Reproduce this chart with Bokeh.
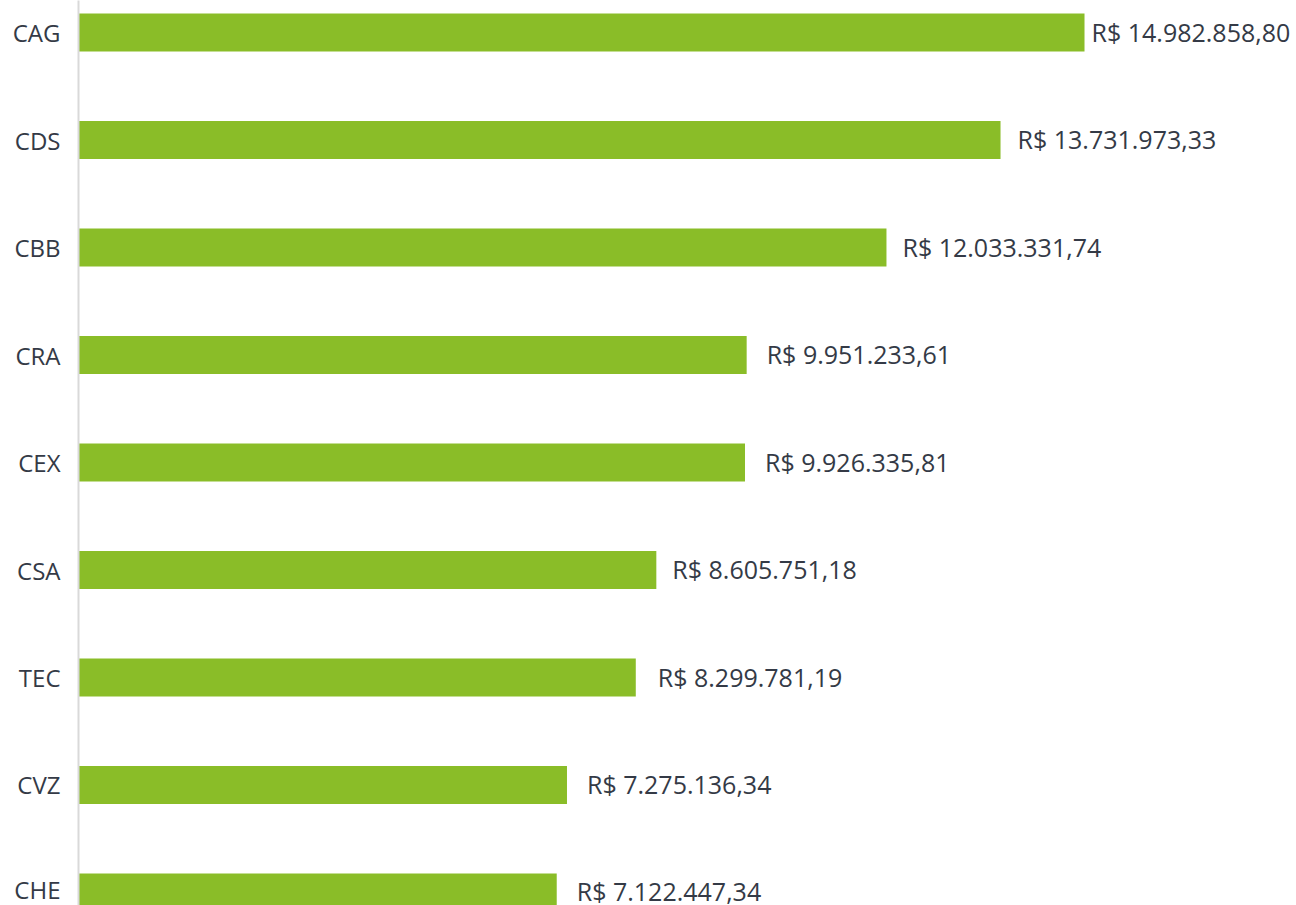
from bokeh.plotting import figure
from bokeh.models import ColumnDataSource, Range1d, FixedTicker
from bokeh.core.properties import value
from bokeh.embed import file_html
from bokeh.resources import INLINE

categories = ["CAG", "CDS", "CBB", "CRA", "CEX", "CSA", "TEC", "CVZ", "CHE"]
values = [14982858.80, 13731973.33, 12033331.74, 9951233.61, 9926335.81,
          8605751.18, 8299781.19, 7275136.34, 7122447.34]
labels = ["R$ 14.982.858,80", "R$ 13.731.973,33", "R$ 12.033.331,74",
          "R$ 9.951.233,61", "R$ 9.926.335,81", "R$ 8.605.751,18",
          "R$ 8.299.781,19", "R$ 7.275.136,34", "R$ 7.122.447,34"]

# style: label offsets from bar end (px)
label_offsets = [7, 17, 16, 20, 20, 16, 22, 20, 20]

ypos = list(range(len(categories)))
src = ColumnDataSource(dict(y=ypos, v=values, lab=labels, off=label_offsets))

p = figure(width=1296, height=905, output_backend="svg", toolbar_location=None,
           x_range=Range1d(0, 18140000), y_range=Range1d(start=8.121, end=-0.298),
           min_border_left=78, min_border_right=0, min_border_top=0, min_border_bottom=0)
p.outline_line_color = None
p.xgrid.visible = False
p.ygrid.visible = False
p.xaxis.visible = False

p.hbar(y="y", left=0, right="v", height=0.353, source=src,
       fill_color="#8abd28", line_color=None)
p.text(x="v", y="y", text="lab", x_offset="off", y_offset=-1, source=src,
       text_font=value("Open Sans"), text_font_size="25px",
       text_color="#343a46", text_baseline="middle", text_align="left")

ax = p.yaxis[0]
ax.ticker = FixedTicker(ticks=ypos)
ax.major_label_overrides = {i: c for i, c in zip(ypos, categories)}
ax.major_tick_line_color = None
ax.minor_tick_line_color = None
ax.major_tick_out = 0
ax.major_tick_in = 0
ax.major_label_standoff = 18
ax.axis_line_color = "#d9d9d9"
ax.axis_line_width = 2
ax.major_label_text_font = "Open Sans"
ax.major_label_text_font_size = "24px"
ax.major_label_text_color = "#343a46"

open("out.html", "w").write(file_html(p, INLINE))
